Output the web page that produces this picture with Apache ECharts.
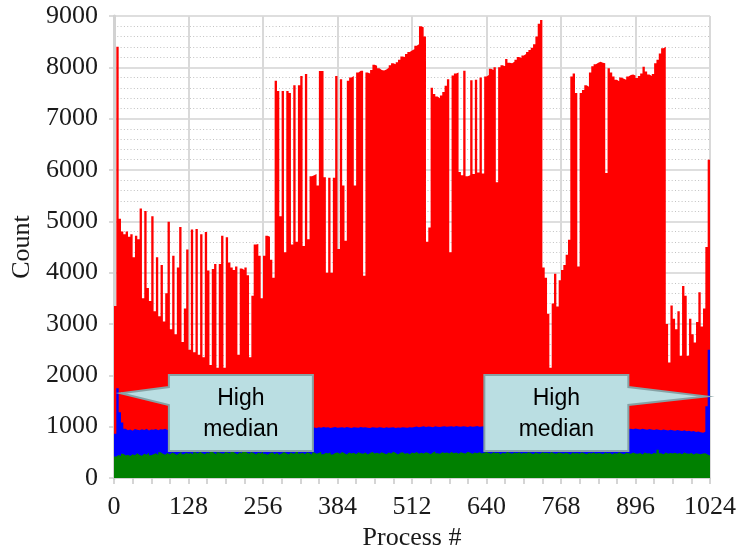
<!DOCTYPE html>
<html>
<head>
<meta charset="utf-8">
<script src="https://cdn.jsdelivr.net/npm/echarts@6/dist/echarts.min.js"></script>
<style>
  html, body { margin: 0; padding: 0; background: #ffffff; }
  #chart { width: 737px; height: 548px; }
</style>
</head>
<body>
<div id="chart"></div>
<script>
// Per-process counts, one value for every block of PROCESS_STEP processes.
const PROCESS_STEP = 4;
const PROCESS_MAX = 1024;
const PROCESS_TICK = 128;
const COUNT_MAX = 9000;
const COUNT_TICK = 1000;

// Maximum count per block of processes
const maxCounts = [
  3350, 8400, 5050, 4800, 4750, 4800, 4700, 4750, 4300, 4720, 4650, 5250, 3500, 5200, 3700, 3450,
  5100, 3250, 4300, 3150, 4150, 3050, 3600, 4990, 2900, 4330, 2800, 4100, 4890, 2650, 3300, 4450,
  2500, 4840, 2450, 4850, 2400, 4750, 2350, 4790, 4040, 2200, 4070, 4170, 2150, 4170, 4720, 2150,
  4690, 4200, 4100, 4050, 4120, 2400, 4080, 4050, 4100, 3950, 2350, 3550, 4550, 4560, 4330, 3500,
  4330, 4720, 4700, 4250, 3900, 7740, 7540, 5100, 7540, 4400, 7540, 7500, 4550, 7650, 4600, 7650,
  7830, 4520, 7870, 4650, 5880, 5900, 5920, 5700, 7930, 7930, 5860, 4000, 5850, 4000, 5850, 7830,
  4460, 7770, 5700, 4620, 7740, 7800, 7830, 5700, 7900, 7935, 7935, 3940, 7900, 7880, 7950, 8050,
  8030, 7980, 7950, 7940, 7960, 7990, 8040, 8080, 8060, 8100, 8150, 8210, 8200, 8260, 8300, 8330,
  8350, 8420, 8450, 8800, 8780, 8600, 4600, 4880, 7600, 7480, 7430, 7400, 7450, 7520, 7640, 7770,
  4400, 7840, 7880, 7900, 5960, 5900, 7935, 5880, 5900, 7750, 5920, 7760, 5950, 7800, 5930, 7820,
  7850, 7970, 7950, 8000, 5760, 8000, 8040, 8020, 8160, 8090, 8080, 8110, 8150, 8200, 8180, 8230,
  8260, 8300, 8340, 8380, 8450, 8600, 8850, 8920, 4100, 3900, 3200, 2150, 3400, 3980, 3340, 3850,
  4050, 4150, 4350, 4640, 7820, 7880, 7500, 4120, 7500, 7560, 7650, 7620, 7900, 8020, 8060, 8090,
  8110, 8090, 8080, 5940, 7980, 7900, 7820, 7760, 7730, 7800, 7780, 7760, 7820, 7850, 7860, 7840,
  7790, 7830, 7880, 8010, 7920, 7860, 7830, 7870, 8080, 8150, 8270, 8370, 8400, 3000, 2250, 3360,
  3100, 2900, 3250, 2380, 3740, 3550, 2380, 3100, 2800, 2640, 3040, 3620, 2950, 3300, 4500, 6200
];

// Median count per block of processes
const medianCounts = [
  860, 1750, 1280, 1080, 960, 930, 945, 920, 955, 940, 930, 950, 935, 960, 925, 945,
  940, 955, 930, 950, 945, 960, 935, 950, 940, 930, 955, 945, 960, 940, 950, 935,
  945, 960, 950, 940, 955, 930, 945, 960, 950, 935, 945, 955, 940, 950, 960, 945,
  950, 940, 955, 945, 960, 950, 940, 955, 945, 935, 950, 960, 945, 950, 940, 955,
  960, 965, 970, 975, 960, 980, 970, 975, 985, 965, 975, 980, 970, 985, 975, 980,
  990, 975, 985, 980, 995, 985, 975, 990, 980, 995, 985, 990, 975, 985, 995, 980,
  985, 990, 980, 995, 985, 975, 990, 985, 980, 995, 985, 990, 980, 975, 990, 985,
  980, 990, 985, 975, 990, 980, 985, 990, 975, 985, 980, 990, 985, 980, 990, 985,
  995, 1005, 990, 1000, 1010, 995, 1005, 1000, 990, 1010, 1000, 995, 1005, 1010, 1000, 1005,
  1010, 1000, 1015, 1005, 1000, 1010, 1005, 995, 1010, 1000, 1005, 1015, 1000, 1005, 1010, 1000,
  995, 1000, 985, 990, 1000, 985, 995, 990, 980, 995, 985, 990, 995, 980, 990, 985,
  990, 980, 995, 985, 975, 990, 985, 980, 990, 975, 985, 990, 980, 985, 975, 990,
  980, 975, 985, 970, 980, 975, 985, 970, 980, 965, 975, 970, 980, 965, 975, 970,
  965, 975, 960, 970, 965, 955, 970, 960, 965, 950, 960, 965, 955, 960, 950, 965,
  955, 945, 960, 950, 940, 955, 945, 935, 950, 940, 930, 945, 935, 925, 940, 930,
  920, 935, 925, 915, 930, 910, 920, 905, 915, 895, 905, 890, 880, 900, 1400, 2500
];

// Minimum count per block of processes
const minCounts = [
  420, 450, 430, 470, 440, 455, 430, 465, 445, 480, 450, 435, 470, 455, 490, 445,
  465, 480, 450, 500, 470, 455, 485, 460, 495, 475, 450, 480, 505, 465, 490, 470,
  485, 460, 500, 475, 510, 480, 465, 495, 470, 520, 485, 460, 500, 480, 470, 505,
  490, 475, 515, 485, 465, 500, 480, 530, 495, 470, 505, 485, 460, 495, 475, 510,
  470, 455, 480, 500, 465, 490, 455, 475, 505, 480, 460, 495, 470, 485, 540, 475,
  490, 465, 500, 480, 455, 495, 470, 485, 510, 465, 490, 475, 500, 460, 485, 495,
  470, 505, 480, 460, 495, 475, 490, 465, 500, 480, 470, 495, 460, 485, 505, 475,
  490, 470, 500, 480, 465, 495, 475, 510, 485, 460, 490, 500, 470, 485, 465, 495,
  480, 505, 470, 490, 475, 500, 485, 465, 495, 520, 480, 470, 500, 485, 495, 475,
  505, 480, 495, 470, 500, 485, 475, 510, 490, 470, 495, 480, 500, 475, 490, 505,
  485, 470, 500, 480, 495, 465, 490, 475, 505, 485, 470, 495, 480, 500, 470, 490,
  475, 500, 485, 465, 495, 480, 470, 500, 485, 490, 475, 505, 480, 470, 495, 485,
  470, 490, 480, 460, 495, 475, 485, 470, 500, 480, 465, 490, 475, 495, 470, 485,
  480, 465, 495, 475, 490, 460, 485, 470, 500, 475, 465, 490, 480, 470, 495, 475,
  470, 485, 460, 495, 475, 480, 465, 490, 470, 550, 480, 465, 495, 470, 485, 475,
  490, 470, 485, 465, 495, 475, 470, 485, 460, 480, 470, 465, 475, 480, 460, 440
];

// Annotations: where each callout points (process, count) and where its box sits
const callouts = [
  { text: 'High\nmedian', tip: [12, 1650], box: [218, 1266], side: 'left' },
  { text: 'High\nmedian', tip: [1017, 1590], box: [760, 1266], side: 'right' }
];

const SERIF = '"Liberation Serif", "Times New Roman", serif';
const SANS = '"Liberation Sans", Arial, sans-serif';

// Each value holds for its whole block, so close the last step at the axis end.
function toSteps(values) {
  const pts = values.map((v, i) => [i * PROCESS_STEP, v]);
  pts.push([values.length * PROCESS_STEP, values[values.length - 1]]);
  return pts;
}

function areaSeries(name, values, color) {
  return {
    name: name,
    type: 'line',
    step: 'end',
    symbol: 'none',
    data: toSteps(values),
    lineStyle: { width: 0, color: color },
    areaStyle: { color: color, opacity: 1 },
    itemStyle: { color: color },
    silent: true
  };
}

const plainNumber = v => String(v);

const chart = echarts.init(document.getElementById('chart'), null, { renderer: 'canvas' });

const option = {
  animation: false,
  backgroundColor: '#ffffff',
  grid: { left: 114, right: 27, top: 16, bottom: 70, containLabel: false, outerBoundsMode: 'none' },
  xAxis: {
    type: 'value',
    min: 0,
    max: PROCESS_MAX,
    interval: PROCESS_TICK,
    name: 'Process #',
    nameLocation: 'middle',
    nameGap: 41,
    nameTextStyle: { fontFamily: SERIF, fontSize: 26, color: '#1a1a1a' },
    axisLine: { show: true, lineStyle: { color: '#d2d2d2', width: 2 } },
    axisTick: { show: true, length: 6, lineStyle: { color: '#c8c8c8', width: 1.5 } },
    minorTick: { show: true, splitNumber: 4, length: 6, lineStyle: { color: '#c8c8c8', width: 1.5 } },
    axisLabel: { fontFamily: SERIF, fontSize: 26, color: '#1a1a1a', margin: 16, formatter: plainNumber },
    splitLine: { show: true, lineStyle: { color: '#d9d9d9', width: 2 } }
  },
  yAxis: {
    type: 'value',
    min: 0,
    max: COUNT_MAX,
    interval: COUNT_TICK,
    name: 'Count',
    nameLocation: 'middle',
    nameGap: 62,
    nameRotate: 90,
    nameTextStyle: { fontFamily: SERIF, fontSize: 26, color: '#1a1a1a' },
    axisLine: { show: true, lineStyle: { color: '#d2d2d2', width: 3 } },
    axisTick: { show: true, length: 5, lineStyle: { color: '#d0d0d0', width: 1.5 } },
    minorTick: { show: false, splitNumber: 5 },
    minorSplitLine: { show: true, lineStyle: { color: '#c2c2c2', width: 1.2, type: [1, 2.3] } },
    axisLabel: { fontFamily: SERIF, fontSize: 26, color: '#1a1a1a', margin: 16, formatter: plainNumber },
    splitLine: { show: true, lineStyle: { color: '#dedede', width: 2 } }
  },
  series: [
    areaSeries('Max', maxCounts, '#ff0000'),
    areaSeries('Median', medianCounts, '#0000ff'),
    areaSeries('Min', minCounts, '#008000')
  ]
};

chart.setOption(option);

// Callout boxes, positioned from data coordinates once the grid is laid out
function calloutGraphics(c, idx) {
  const tip = chart.convertToPixel({ gridIndex: 0 }, c.tip);
  const ctr = chart.convertToPixel({ gridIndex: 0 }, c.box);
  const hw = 72, hh = 38;
  const cx = ctr[0], cy = ctr[1];
  let pts;
  if (c.side === 'left') {
    pts = [[cx + hw, cy - hh], [cx + hw, cy + hh], [cx - hw, cy + hh], [cx - hw, cy - 8],
           tip, [cx - hw, cy - 26], [cx - hw, cy - hh]];
  } else {
    pts = [[cx - hw, cy - hh], [cx + hw, cy - hh], [cx + hw, cy - 26], tip,
           [cx + hw, cy - 8], [cx + hw, cy + hh], [cx - hw, cy + hh]];
  }
  return [
    {
      type: 'polygon',
      id: 'callout-shape-' + idx,
      z: 100,
      shape: { points: pts },
      style: { fill: '#badee2', stroke: '#86a2a5', lineWidth: 2 }
    },
    {
      type: 'text',
      id: 'callout-text-' + idx,
      z: 101,
      x: cx,
      y: cy + 1,
      style: {
        text: c.text,
        fill: '#000000',
        font: '23px ' + SANS,
        lineHeight: 31,
        align: 'center',
        verticalAlign: 'middle'
      }
    }
  ];
}

chart.setOption({
  graphic: callouts.map(calloutGraphics).reduce((a, b) => a.concat(b), [])
});
</script>
</body>
</html>
